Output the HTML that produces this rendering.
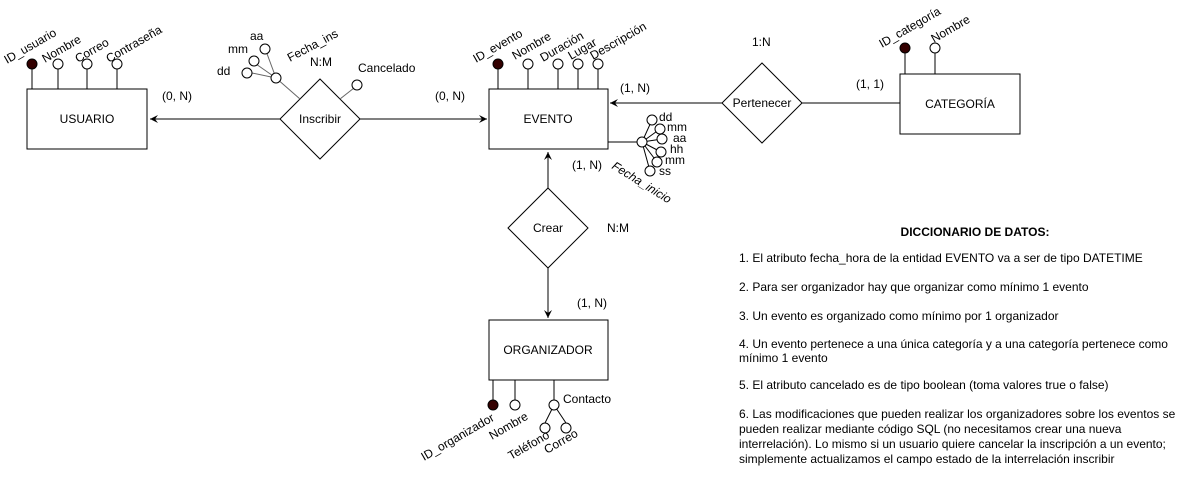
<!DOCTYPE html>
<html><head><meta charset="utf-8"><style>
html,body{margin:0;padding:0;background:#fff;}
svg{display:block;font-family:"Liberation Sans",Arial,sans-serif;font-size:12px;}
</style></head><body>
<svg width="1199" height="480" viewBox="0 0 1199 480" xmlns="http://www.w3.org/2000/svg">
<defs><marker id="a" markerWidth="10" markerHeight="10" refX="8" refY="5" orient="auto" markerUnits="userSpaceOnUse"><path d="M0,1 L8,5 L0,9 L3,5 Z" fill="#000"/></marker></defs>
<g stroke="#000" stroke-width="1" fill="#fff">
<rect x="27" y="89" width="120" height="60"/>
<line x1="32" y1="69" x2="32" y2="89"/><line x1="58" y1="69" x2="58" y2="89"/><line x1="87" y1="69" x2="87" y2="89"/><line x1="117" y1="69" x2="117" y2="89"/>
<circle cx="32" cy="64" r="5" fill="#330000"/><circle cx="58" cy="64" r="5"/><circle cx="87" cy="64" r="5"/><circle cx="117" cy="64" r="5"/>
<line x1="280" y1="119" x2="150" y2="119" marker-end="url(#a)"/>
<line x1="360" y1="119" x2="487" y2="119" marker-end="url(#a)"/>
<polygon points="320,79 360,119 320,159 280,119"/>
<line x1="300" y1="99" x2="276" y2="78" stroke="#666"/>
<line x1="276" y1="78" x2="252" y2="73" stroke="#666"/><line x1="276" y1="78" x2="256" y2="64" stroke="#666"/><line x1="276" y1="78" x2="266" y2="51" stroke="#666"/>
<circle cx="247" cy="73" r="5"/><circle cx="254" cy="61" r="5"/><circle cx="265" cy="49" r="5"/><circle cx="276" cy="78" r="5"/>
<line x1="340" y1="99" x2="354" y2="88" stroke="#666"/><circle cx="357" cy="85" r="5"/>
<rect x="489" y="89" width="119" height="60"/>
<line x1="498" y1="69" x2="498" y2="89"/><line x1="528" y1="69" x2="528" y2="89"/><line x1="558" y1="69" x2="558" y2="89"/><line x1="578" y1="69" x2="578" y2="89"/><line x1="598" y1="69" x2="598" y2="89"/>
<circle cx="498" cy="64" r="5" fill="#330000"/><circle cx="528" cy="64" r="5"/><circle cx="558" cy="64" r="5"/><circle cx="578" cy="64" r="5"/><circle cx="598" cy="64" r="5"/>
<line x1="608" y1="142" x2="637" y2="142"/>
<line x1="642" y1="142" x2="652" y2="120"/><line x1="642" y1="142" x2="660" y2="129"/><line x1="642" y1="142" x2="662" y2="139"/><line x1="642" y1="142" x2="661" y2="152"/><line x1="642" y1="142" x2="657" y2="162"/><line x1="642" y1="142" x2="650" y2="171"/>
<circle cx="652" cy="120" r="5"/><circle cx="660" cy="129" r="5"/><circle cx="662" cy="139" r="5"/><circle cx="661" cy="152" r="5"/><circle cx="657" cy="162" r="5"/><circle cx="650" cy="171" r="5"/>
<circle cx="642" cy="142" r="5"/>
<line x1="722" y1="103" x2="610" y2="103" marker-end="url(#a)"/>
<line x1="802" y1="103" x2="900" y2="103"/>
<polygon points="762,63 802,103 762,143 722,103"/>
<rect x="900" y="74" width="120" height="60"/>
<line x1="905" y1="53" x2="905" y2="74"/><line x1="935" y1="53" x2="935" y2="74"/>
<circle cx="905" cy="48" r="5" fill="#330000"/><circle cx="935" cy="48" r="5"/>
<line x1="548" y1="188" x2="548" y2="152" marker-end="url(#a)"/>
<line x1="548" y1="268" x2="548" y2="318" marker-end="url(#a)"/>
<polygon points="548,188 588,228 548,268 508,228"/>
<rect x="489" y="320" width="119" height="60"/>
<line x1="493" y1="380" x2="493" y2="400"/><line x1="515" y1="380" x2="515" y2="400"/><line x1="554" y1="380" x2="554" y2="400"/>
<line x1="554" y1="405" x2="545" y2="423"/><line x1="554" y1="405" x2="566" y2="423"/>
<circle cx="493" cy="405" r="5" fill="#330000"/><circle cx="515" cy="405" r="5"/><circle cx="554" cy="405" r="5"/>
<circle cx="545" cy="428" r="5"/><circle cx="566" cy="428" r="5"/>
</g>
<g fill="#000">
<text x="87" y="123" text-anchor="middle">USUARIO</text>
<text x="548" y="123" text-anchor="middle">EVENTO</text>
<text x="960" y="108" text-anchor="middle">CATEGORÍA</text>
<text x="548" y="354" text-anchor="middle">ORGANIZADOR</text>
<text x="320" y="123" text-anchor="middle">Inscribir</text>
<text x="762" y="107" text-anchor="middle">Pertenecer</text>
<text x="548" y="232" text-anchor="middle">Crear</text>
<text x="162" y="100">(0, N)</text>
<text x="435" y="100">(0, N)</text>
<text x="620" y="92">(1, N)</text>
<text x="856" y="88">(1, 1)</text>
<text x="572" y="169">(1, N)</text>
<text x="577" y="307">(1, N)</text>
<text x="310" y="66">N:M</text>
<text x="752" y="46">1:N</text>
<text x="607" y="232">N:M</text>
<text x="358" y="72">Cancelado</text>
<text x="250" y="40">aa</text>
<text x="228" y="53">mm</text>
<text x="217" y="75">dd</text>
<text transform="translate(290,62) rotate(-28)">Fecha_ins</text>
<text transform="translate(7,64) rotate(-30)">ID_usuario</text>
<text transform="translate(45,63) rotate(-30)">Nombre</text>
<text transform="translate(78,63) rotate(-30)">Correo</text>
<text transform="translate(109,63) rotate(-30)">Contraseña</text>
<text transform="translate(476,63) rotate(-30)">ID_evento</text>
<text transform="translate(515,60) rotate(-30)">Nombre</text>
<text transform="translate(543,62) rotate(-30)">Duración</text>
<text transform="translate(571,60) rotate(-30)">Lugar</text>
<text transform="translate(593,60) rotate(-30)">Descripción</text>
<text transform="translate(882,48) rotate(-30)">ID_categoría</text>
<text transform="translate(934,43) rotate(-30)">Nombre</text>
<g font-size="12"><text x="659" y="121">dd</text><text x="667" y="131">mm</text><text x="673" y="142">aa</text><text x="670" y="153">hh</text><text x="665" y="164">mm</text><text x="659" y="175">ss</text></g>
<text transform="translate(611,168) rotate(32)" font-style="italic">Fecha_inicio</text>
<text x="563" y="403">Contacto</text>
<text transform="translate(424,461) rotate(-30)">ID_organizador</text>
<text transform="translate(492,440) rotate(-30)">Nombre</text>
<text transform="translate(511,460) rotate(-30)">Teléfono</text>
<text transform="translate(547,454) rotate(-30)">Correo</text>
</g>
<g fill="#000" font-size="12">
<text x="975" y="236" text-anchor="middle" font-weight="bold">DICCIONARIO DE DATOS:</text>
<text x="739" y="262">1. El atributo fecha_hora de la entidad EVENTO va a ser de tipo DATETIME</text>
<text x="739" y="291">2. Para ser organizador hay que organizar como mínimo 1 evento</text>
<text x="739" y="320">3. Un evento es organizado como mínimo por 1 organizador</text>
<text x="739" y="348">4. Un evento pertenece a una única categoría y a una categoría pertenece como</text>
<text x="739" y="362">mínimo 1 evento</text>
<text x="739" y="389">5. El atributo cancelado es de tipo boolean (toma valores true o false)</text>
<text x="739" y="418">6. Las modificaciones que pueden realizar los organizadores sobre los eventos se</text>
<text x="739" y="433">pueden realizar mediante código SQL (no necesitamos crear una nueva</text>
<text x="739" y="448">interrelación). Lo mismo si un usuario quiere cancelar la inscripción a un evento;</text>
<text x="739" y="463">simplemente actualizamos el campo estado de la interrelación inscribir</text>
</g>
</svg>
</body></html>
